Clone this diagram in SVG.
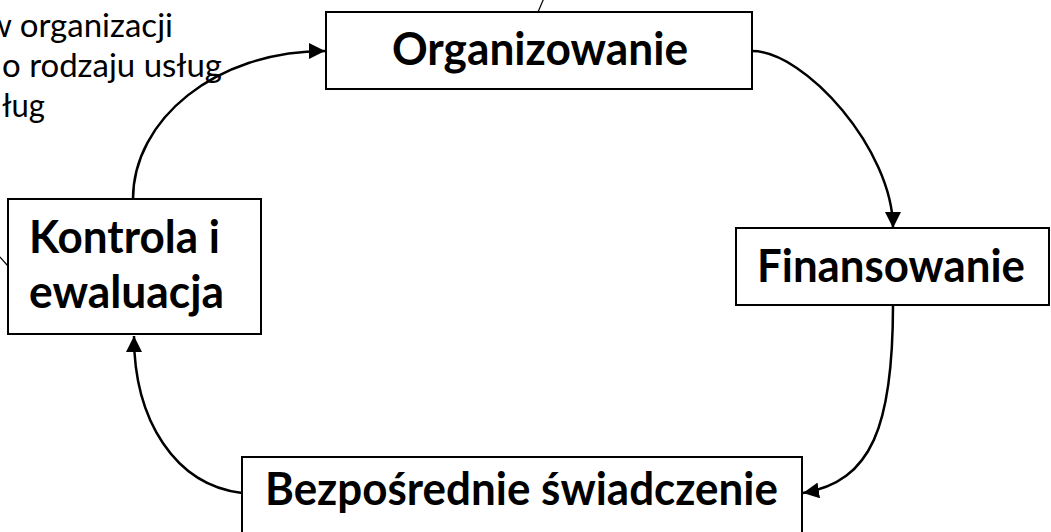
<svg xmlns="http://www.w3.org/2000/svg" width="1051" height="532" viewBox="0 0 1051 532">
<style>
.box{fill:#fff;stroke:#000;stroke-width:2}
.lbl{font-family:Lato,"Noto Sans","Liberation Sans",sans-serif;font-weight:bold;font-size:46px;fill:#000}
.note{font-family:Lato,"Noto Sans","Liberation Sans",sans-serif;font-size:33px;fill:#000}
.conn{fill:none;stroke:#000;stroke-width:2.5}
.thin{fill:none;stroke:#000;stroke-width:1.2}
</style>
<defs>
<marker id="ah" markerUnits="userSpaceOnUse" markerWidth="18" markerHeight="16" refX="16" refY="8" orient="auto">
<path d="M0,0 L16,8 L0,16 Z" fill="#000"/>
</marker>
</defs>
<rect width="1051" height="532" fill="#fff"/>
<g id="note">
<text class="note" x="-14" y="37" textLength="187" lengthAdjust="spacingAndGlyphs">w organizacji</text>
<text class="note" x="2" y="77" textLength="220" lengthAdjust="spacingAndGlyphs">o rodzaju usług</text>
<text class="note" x="2" y="117" textLength="43" lengthAdjust="spacingAndGlyphs">ług</text>
</g>
<g id="connectors">
<line class="thin" x1="538" y1="12" x2="544" y2="-2"/>
<line class="thin" x1="8" y1="266" x2="-2" y2="255"/>
<path class="conn" d="M133,199 C133,120 215,51 325,51" marker-end="url(#ah)"/>
<path class="conn" d="M752,51 C805,51 893,150 893,228" marker-end="url(#ah)"/>
<path class="conn" d="M893,305 C893,425 872,482 803,493" marker-end="url(#ah)"/>
<path class="conn" d="M242,493 C175,485 134,420 134,336" marker-end="url(#ah)"/>
</g>
<g id="organizowanie">
<rect class="box" x="326" y="12" width="426" height="77"/>
<text class="lbl" x="392" y="65" textLength="296" lengthAdjust="spacingAndGlyphs">Organizowanie</text>
</g>
<g id="finansowanie">
<rect class="box" x="736" y="228" width="313" height="77"/>
<text class="lbl" x="757" y="282" textLength="268" lengthAdjust="spacingAndGlyphs">Finansowanie</text>
</g>
<g id="bezposrednie">
<rect class="box" x="242" y="457" width="560" height="90"/>
<text class="lbl" x="265" y="505" textLength="513" lengthAdjust="spacingAndGlyphs">Bezpośrednie świadczenie</text>
</g>
<g id="kontrola">
<rect class="box" x="8" y="199" width="253" height="135"/>
<text class="lbl" x="29" y="253" textLength="191" lengthAdjust="spacingAndGlyphs">Kontrola i</text>
<text class="lbl" x="29" y="308" textLength="195" lengthAdjust="spacingAndGlyphs">ewaluacja</text>
</g>
</svg>
